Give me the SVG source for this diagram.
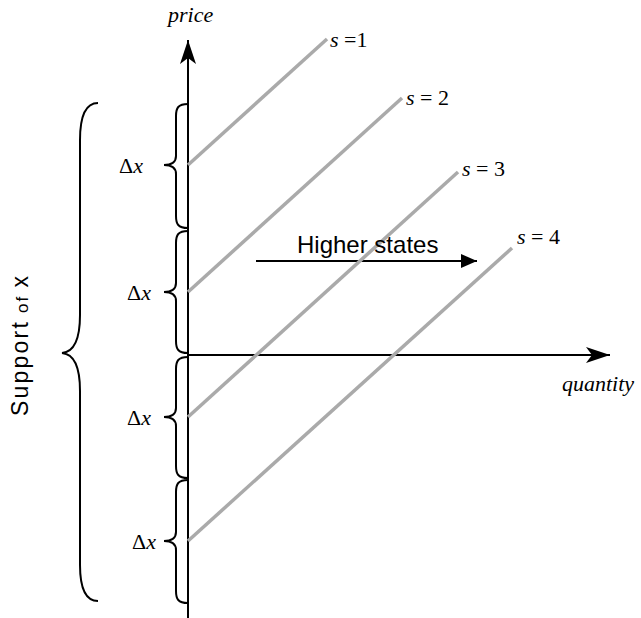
<svg xmlns="http://www.w3.org/2000/svg" width="641" height="618" viewBox="0 0 641 618">
<style>
.ax{stroke:#000;stroke-width:2;fill:none}
.br{stroke:#000;stroke-width:2;fill:none}
.st{stroke:#aaa;stroke-width:3.5;fill:none}
.m{font-family:"Liberation Serif",serif;font-size:22px;fill:#000}
.i{font-style:italic}
.s{font-family:"Liberation Sans",sans-serif;fill:#000}
</style>
<defs>
<marker id="ah" markerWidth="26" markerHeight="18" refX="24" refY="9" orient="auto" markerUnits="userSpaceOnUse">
<path d="M0,1 L24,9 L0,17 L6,9 Z" fill="#000"/>
</marker>
<marker id="ah2" markerWidth="18" markerHeight="14" refX="16" refY="7" orient="auto" markerUnits="userSpaceOnUse">
<path d="M0,0 L16,7 L0,14 Z" fill="#000"/>
</marker>
</defs>
<g id="connectors">
<line class="ax" x1="188" y1="618" x2="188" y2="40" marker-end="url(#ah)"/>
<line class="ax" x1="188" y1="355" x2="610" y2="355" marker-end="url(#ah)"/>
<line class="ax" x1="256" y1="261" x2="477" y2="261" marker-end="url(#ah2)"/>
<line class="st" x1="188" y1="165" x2="327" y2="39"/>
<line class="st" x1="188" y1="292" x2="402" y2="98"/>
<line class="st" x1="188" y1="417" x2="458" y2="172"/>
<line class="st" x1="188" y1="541" x2="512" y2="248"/>
</g>
<g id="braces">
<path class="br" d="M188,104 C178,104 176,108 176,116 L176,156 C176,162 172,165 164,165 C172,165 176,168 176,174 L176,216 C176,224 178,228 188,228"/>
<path class="br" d="M188,231 C178,231 176,235 176,243 L176,283 C176,289 172,292 164,292 C172,292 176,295 176,301 L176,341 C176,349 178,353 188,353"/>
<path class="br" d="M188,357 C178,357 176,361 176,369 L176,408 C176,414 172,417 164,417 C172,417 176,420 176,426 L176,466 C176,474 178,478 188,478"/>
<path class="br" d="M188,480 C178,480 176,484 176,492 L176,532 C176,538 172,541 164,541 C172,541 176,544 176,550 L176,591 C176,599 178,603 188,603"/>
<path class="br" d="M98,103 C86,103 80,115 80,140 L80,315 C80,338 74,352 62,353 C74,354 80,368 80,391 L80,565 C80,590 86,601 98,601"/>
</g>
<g id="labels">
<text class="m i" x="168" y="22" font-size="20">price</text>
<text class="m i" x="562" y="391">quantity</text>
<text class="m" x="330" y="47"><tspan class="i">s</tspan> =1</text>
<text class="m" x="406" y="105"><tspan class="i">s</tspan> = 2</text>
<text class="m" x="462" y="176"><tspan class="i">s</tspan> = 3</text>
<text class="m" x="517" y="244"><tspan class="i">s</tspan> = 4</text>
<text class="m" x="119" y="173">Δ<tspan class="i">x</tspan></text>
<text class="m" x="127" y="300">Δ<tspan class="i">x</tspan></text>
<text class="m" x="127" y="425">Δ<tspan class="i">x</tspan></text>
<text class="m" x="132" y="549">Δ<tspan class="i">x</tspan></text>
<text class="s" x="297" y="253" font-size="24">Higher states</text>
<g transform="translate(28,416) rotate(-90)">
<text class="s" x="0" y="0" font-size="23" textLength="140" lengthAdjust="spacing">Support<tspan font-size="17"> of </tspan>x</text>
</g>
</g>
</svg>
